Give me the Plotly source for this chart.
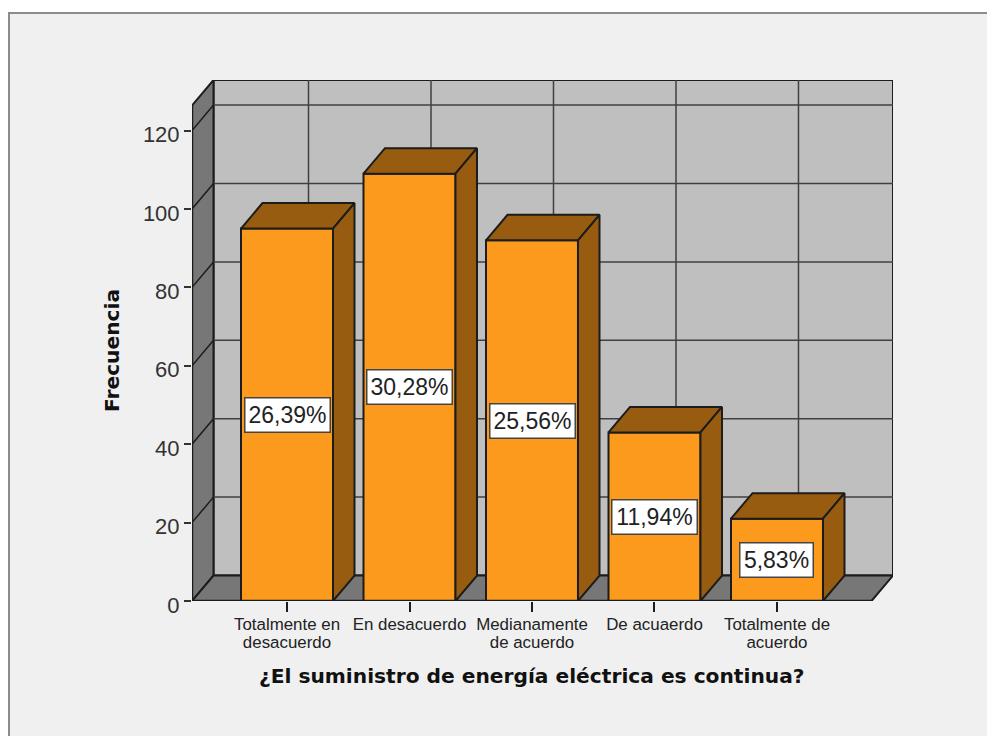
import plotly.graph_objects as go

# ---- data ----
categories = ["Totalmente en<br>desacuerdo", "En desacuerdo", "Medianamente<br>de acuerdo",
              "De acuaerdo", "Totalmente de<br>acuerdo"]
frequencies = [95, 109, 92, 43, 21]
percent_labels = ["26,39%", "30,28%", "25,56%", "11,94%", "5,83%"]
y_ticks = [0, 20, 40, 60, 80, 100, 120]
x_title = "¿El suministro de energía eléctrica es continua?"
y_title = "Frecuencia"

# ---- geometry of the pseudo-3D box, in axis units ----
positions = list(range(len(categories)))
BAR_W = 0.751
DX, DY = 0.1755, 6.5
X0, X1 = -0.7755, 4.947
Y1 = 132.9
FX1 = X1 - DX            # right end of the front floor edge
FY1 = Y1 - DY            # top of the front plane

ORANGE, BROWN = "#fb9a1d", "#985c10"
WALL, DARKWALL = "#bfbfbf", "#777777"
INK, GRID = "#1c1c1c", "#404040"
FONT = "Liberation Sans"
WIDE = "DejaVu Sans"

# plot area in pixels
L, T, PW, PH = 192, 80, 701, 521
W, H = 987, 736
px = lambda x: (x - L) / PW
py = lambda y: (T + PH - y) / PH


def poly(xs, ys):
    return "M " + " L ".join(f"{a} {b}" for a, b in zip(xs, ys)) + " Z"


shapes = [
    # outer frame
    dict(type="rect", xref="paper", yref="paper", x0=px(9), x1=px(W + 5), y0=py(13), y1=py(H + 5),
         fillcolor="#f0f0f0", line=dict(color="#8c8c8c", width=2), layer="below"),
    # back wall
    dict(type="rect", xref="x", yref="y", x0=X0 + DX, x1=X1, y0=DY, y1=Y1,
         fillcolor=WALL, line=dict(color=INK, width=2), layer="below"),
    # left wall
    dict(type="path", xref="x", yref="y",
         path=poly([X0, X0 + DX, X0 + DX, X0], [0, DY, Y1, FY1]),
         fillcolor=DARKWALL, line=dict(color=INK, width=2), layer="below"),
    # floor
    dict(type="path", xref="x", yref="y",
         path=poly([X0, X0 + DX, X1, FX1], [0, DY, DY, 0]),
         fillcolor=DARKWALL, line=dict(color=INK, width=2), layer="below"),
]
# horizontal grid on back wall + diagonals on the left wall
for v in y_ticks[1:]:
    shapes.append(dict(type="line", xref="x", yref="y", x0=X0 + DX, x1=X1, y0=v + DY, y1=v + DY,
                       line=dict(color=GRID, width=1.5), layer="below"))
    shapes.append(dict(type="line", xref="x", yref="y", x0=X0, x1=X0 + DX, y0=v, y1=v + DY,
                       line=dict(color=INK, width=1.5), layer="below"))
# vertical grid on back wall
for p in positions:
    shapes.append(dict(type="line", xref="x", yref="y", x0=p + DX, x1=p + DX, y0=DY, y1=Y1,
                       line=dict(color=GRID, width=1.5), layer="below"))
# front axis lines
shapes.append(dict(type="line", xref="x", yref="y", x0=X0, x1=FX1, y0=0, y1=0,
                   line=dict(color=INK, width=2.5), layer="above"))
shapes.append(dict(type="line", xref="x", yref="y", x0=X0, x1=X0, y0=0, y1=FY1,
                   line=dict(color=INK, width=2.5), layer="above"))

fig = go.Figure()

# front faces
fig.add_trace(go.Bar(x=positions, y=frequencies, width=BAR_W, marker=dict(color=ORANGE, line=dict(color=INK, width=2)),
                     hoverinfo="skip", showlegend=False))

# top and side faces, derived from the values
for p, v in zip(positions, frequencies):
    a, b = p - BAR_W / 2, p + BAR_W / 2
    fig.add_trace(go.Scatter(x=[a, a + DX, b + DX, b, a], y=[v, v + DY, v + DY, v, v], mode="lines",
                             fill="toself", fillcolor=BROWN, line=dict(color=INK, width=2),
                             hoverinfo="skip", showlegend=False))
    fig.add_trace(go.Scatter(x=[b, b + DX, b + DX, b, b], y=[0, DY, v + DY, v, 0], mode="lines",
                             fill="toself", fillcolor=BROWN, line=dict(color=INK, width=2),
                             hoverinfo="skip", showlegend=False))

annotations = [
    dict(x=p, y=v / 2, xref="x", yref="y", text=t, showarrow=False,
         font=dict(family=FONT, size=23, color="#222222"), bgcolor="white",
         width=84 if len(t) > 5 else 72, height=33, valign="middle", align="center",
         bordercolor="#444444", borderwidth=1.5, borderpad=0)
    for p, v, t in zip(positions, frequencies, percent_labels)
]
annotations.append(dict(x=px(532), y=py(676), xref="paper", yref="paper", text=f"<b>{x_title}</b>",
                        xanchor="center", yanchor="middle",
                        showarrow=False, font=dict(family=WIDE, size=20.2, color="#111111")))
annotations.append(dict(x=px(112), y=py(351), xref="paper", yref="paper", text=f"<b>{y_title}</b>",
                        xanchor="center", yanchor="middle",
                        textangle=-90, showarrow=False, font=dict(family=WIDE, size=20.2, color="#111111")))

fig.update_layout(
    width=W, height=H, autosize=False,
    margin=dict(l=L, r=W - L - PW, t=T, b=H - T - PH, pad=0),
    paper_bgcolor="white", plot_bgcolor="rgba(0,0,0,0)",
    shapes=shapes, annotations=annotations, showlegend=False,
    xaxis=dict(range=[X0, X1], tickmode="array", tickvals=positions, ticktext=categories,
               ticks="outside", ticklen=10, tickwidth=1.5, tickcolor=INK, showgrid=False, zeroline=False,
               ticklabelstandoff=-2,
               showline=False, tickfont=dict(family=FONT, size=16.9, color="#222222")),
    yaxis=dict(range=[0, Y1], tickmode="array", tickvals=y_ticks, ticklabelshift=4,
               ticks="outside", ticklen=7, tickwidth=1.5, tickcolor="#333333", showgrid=False, zeroline=False,
               showline=False, tickfont=dict(family=FONT, size=22, color="#333333")),
)

tighten = """
document.body.style.margin='0';document.body.style.overflow='hidden';
document.querySelectorAll('.xtick tspan.line').forEach(function(t){
  if (t.getAttribute('dy') === '1.3em') { t.setAttribute('dy','1.03em'); }
});
"""
fig.write_html("out.html", config={"displayModeBar": False}, post_script=tighten)
